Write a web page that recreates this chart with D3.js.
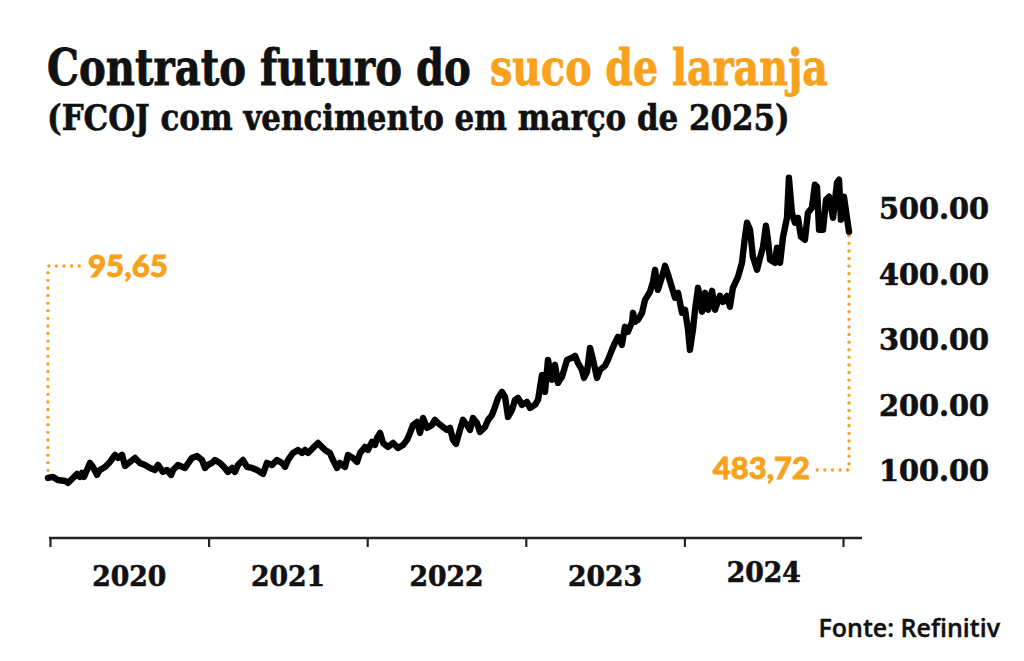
<!DOCTYPE html>
<html><head><meta charset="utf-8">
<script src="https://cdn.jsdelivr.net/npm/d3@7"></script>
<style>
html,body{margin:0;padding:0;background:#fff;}
svg{display:block;}
</style></head>
<body>
<script>
const titleMain = "Contrato futuro do";
const titleHighlight = "suco de laranja";
const subtitle = "(FCOJ com vencimento em março de 2025)";
const source = "Fonte: Refinitiv";
const startLabel = "95,65";
const endLabel = "483,72";
const years = [2020, 2021, 2022, 2023, 2024];
const yearTicks = [2020, 2021, 2022, 2023, 2024, 2025];
const yTicks = [100, 200, 300, 400, 500];

// decimal-year dates and price values
const dates = [
2019.987,2020.019,2020.050,2020.095,2020.113,2020.145,2020.170,2020.189,2020.202,2020.214,
2020.233,2020.252,2020.271,2020.296,2020.315,2020.347,2020.378,2020.410,2020.429,2020.454,
2020.473,2020.504,2020.536,2020.567,2020.599,2020.631,2020.662,2020.681,2020.712,2020.738,
2020.763,2020.776,2020.807,2020.851,2020.895,2020.927,2020.958,2020.977,
2020.996,2021.021,2021.040,2021.072,2021.103,2021.122,2021.148,2021.166,2021.185,2021.217,
2021.242,2021.274,2021.305,2021.324,2021.343,2021.368,2021.400,2021.431,2021.463,2021.482,
2021.501,2021.532,2021.564,2021.589,2021.608,2021.627,2021.658,2021.690,2021.715,2021.734,
2021.765,2021.784,2021.810,2021.828,2021.860,2021.879,2021.910,2021.936,2021.955,2021.986,
2022.005,2022.030,2022.049,
2022.062,2022.081,2022.100,2022.131,2022.163,2022.194,2022.226,2022.251,2022.270,2022.289,
2022.314,2022.333,2022.352,2022.377,2022.409,2022.427,2022.446,2022.478,2022.503,2022.522,
2022.541,2022.560,2022.585,2022.604,2022.629,2022.648,2022.667,2022.692,2022.711,2022.743,
2022.762,2022.787,2022.806,2022.825,2022.850,2022.869,2022.888,2022.913,2022.932,2022.951,
2022.976,2023.007,2023.026,2023.058,
2023.077,2023.102,2023.121,2023.140,2023.165,2023.184,2023.203,2023.228,2023.260,2023.291,
2023.310,2023.329,2023.354,2023.367,2023.386,2023.405,2023.424,2023.449,2023.468,2023.499,
2023.518,2023.543,2023.562,2023.581,2023.606,2023.625,2023.644,2023.670,2023.676,2023.688,
2023.707,2023.733,2023.752,2023.783,2023.802,2023.815,2023.833,2023.859,2023.878,2023.897,
2023.922,2023.941,2023.960,2023.985,2024.004,2024.023,2024.035,2024.054,
2024.067,2024.086,2024.111,2024.130,2024.149,2024.174,2024.193,2024.224,2024.243,2024.269,
2024.287,2024.306,2024.338,2024.363,2024.382,2024.395,2024.414,2024.432,2024.458,2024.477,
2024.496,2024.514,2024.527,2024.540,2024.571,2024.584,2024.603,2024.622,2024.647,2024.659,
2024.678,2024.697,2024.716,2024.735,2024.760,2024.779,2024.804,2024.823,2024.836,2024.849,
2024.874,2024.893,2024.912,2024.937,2024.962,2024.975,2024.987,2025.006,2025.025,2025.038
];
const values = [
88.5,90.0,85.4,83.9,80.9,88.5,94.6,90.0,96.1,90.0,
100.7,111.4,105.3,93.1,100.7,105.3,112.9,123.6,119.0,123.6,
106.8,112.9,119.0,111.4,108.3,103.7,100.7,108.3,97.6,100.7,
93.1,100.7,108.3,103.7,119.0,122.0,115.9,103.7,
108.3,111.4,115.9,111.4,103.7,97.6,103.7,97.6,108.3,115.9,
105.3,103.7,100.7,97.6,94.6,111.4,108.3,115.9,111.4,105.3,
115.9,126.6,131.2,126.6,131.2,126.6,134.3,141.9,135.8,131.2,
126.6,115.9,103.7,111.4,105.3,123.6,119.0,112.9,126.6,135.8,
131.2,143.4,138.8,
149.5,157.1,141.9,135.8,141.9,134.3,138.8,146.5,157.1,169.3,
173.9,157.1,180.0,164.8,169.3,177.0,172.4,166.3,161.7,164.8,
146.5,140.4,161.7,177.0,169.3,161.7,180.0,172.4,158.7,166.3,
177.0,184.6,196.8,210.5,219.7,212.1,181.5,192.2,207.5,210.5,
199.9,204.4,195.3,199.9,
207.5,245.6,219.7,268.5,238.0,260.9,233.4,242.6,268.5,271.6,
274.6,263.9,253.2,241.0,250.2,286.8,268.5,241.0,253.2,259.4,
268.5,283.8,294.4,303.6,291.4,318.9,311.2,326.5,340.2,326.5,
329.5,340.2,360.0,372.2,387.5,405.8,375.3,395.1,411.9,398.2,
378.3,363.1,370.7,340.2,344.8,314.3,283.8,314.3,
344.8,378.3,341.7,370.7,344.8,373.8,344.8,366.1,357.0,366.1,
349.4,378.3,395.1,416.5,456.2,477.5,466.8,425.6,405.8,424.1,
440.9,472.9,451.6,421.1,416.5,439.4,416.5,456.2,485.1,546.2,
492.8,477.5,485.1,456.2,451.6,492.8,500.4,535.5,532.4,466.8,
466.8,512.6,517.2,485.1,538.5,543.1,482.1,517.2,485.1,463.8
];

const W = 1024, H = 661;
const ORANGE = "#F8A21C";
const INK = "#111111";
const SLAB = "'DejaVu Serif Condensed','DejaVu Serif',serif";
const SANS = "Lato,'Open Sans',sans-serif";

const svg = d3.select("body").append("svg").attr("width", W).attr("height", H);

const x = d3.scaleLinear().domain([2020, 2025]).range([50, 843]);
const y = d3.scaleLinear().domain([0, 500]).range([536, 208]);

// Horizontal fit helper: natural metrics, then scale in x to the target width
function fitText(sel, left, base, width) {
  const w = sel.node().getComputedTextLength();
  sel.attr("x", 0).attr("y", 0)
     .attr("transform", `translate(${left},${base}) scale(${width / w},1)`);
  return sel;
}

// Title (two separate texts)
fitText(svg.append("text")
  .attr("font-family", SLAB).attr("font-weight", "bold").attr("font-size", 51).attr("fill", INK)
  .attr("stroke", INK).attr("stroke-width", 0.8)
  .text(titleMain), 47, 85, 424);
fitText(svg.append("text")
  .attr("font-family", SLAB).attr("font-weight", "bold").attr("font-size", 51).attr("fill", ORANGE)
  .attr("stroke", ORANGE).attr("stroke-width", 0.8)
  .text(titleHighlight), 490, 85, 338);

fitText(svg.append("text")
  .attr("font-family", SLAB).attr("font-weight", "bold").attr("font-size", 35).attr("fill", INK)
  .attr("stroke", INK).attr("stroke-width", 0.6)
  .text(subtitle), 47, 130, 743);

// X axis
const axisY = 538;
const xAxis = d3.axisBottom(x).tickValues(yearTicks).tickSize(9).tickFormat("");
const gx = svg.append("g").attr("transform", `translate(0,${axisY})`).call(xAxis);
gx.select(".domain").remove();
gx.selectAll(".tick line").attr("stroke", "#222").attr("stroke-width", 2.2);
svg.append("line").attr("x1", x(2020) - 1).attr("x2", 862).attr("y1", axisY).attr("y2", axisY)
  .attr("stroke", "#222").attr("stroke-width", 2.6);

svg.append("g").selectAll("text").data(years).join("text")
  .attr("x", d => x(d + 0.5)).attr("y", d => d === 2024 ? 582 : 586)
  .attr("text-anchor", "middle")
  .attr("font-family", SLAB).attr("font-weight", "bold").attr("font-size", 27).attr("fill", INK)
  .attr("stroke", INK).attr("stroke-width", 0.6)
  .attr("textLength", 74).attr("lengthAdjust", "spacingAndGlyphs")
  .text(d => d);

// Y axis (right)
const yAxis = d3.axisRight(y).tickValues(yTicks).tickSize(0).tickPadding(0).tickFormat(d3.format(".2f"));
const gy = svg.append("g").attr("transform", "translate(879,0)").call(yAxis);
gy.select(".domain").remove();
gy.selectAll("text").attr("font-family", SLAB).attr("font-weight", "bold")
  .attr("font-size", 29).attr("fill", INK).attr("dy", "0.36em").attr("x", 0)
  .attr("stroke", INK).attr("stroke-width", 0.6)
  .attr("textLength", 110).attr("lengthAdjust", "spacingAndGlyphs");

// Annotation dotted lines
const first = [dates[0], values[0]];
const last = [dates[dates.length - 1], values[values.length - 1]];
const dotStyle = g => g.attr("fill", "none").attr("stroke", ORANGE).attr("stroke-width", 3.4)
  .attr("stroke-linecap", "round").attr("stroke-dasharray", "0 7.6");

const labelY1 = 266;
svg.append("path").call(dotStyle)
  .attr("d", d3.line()([[x(first[0]), y(first[1])], [x(first[0]), labelY1], [x(first[0]) + 37, labelY1]]));
svg.append("text").attr("x", x(first[0]) + 40).attr("y", labelY1).attr("dy", "0.36em")
  .attr("font-family", SANS).attr("font-weight", 900).attr("font-size", 31).attr("fill", ORANGE)
  .attr("stroke", ORANGE).attr("stroke-width", 0.8)
  .attr("textLength", 80).attr("lengthAdjust", "spacingAndGlyphs")
  .text(startLabel);

const labelY2 = 470;
svg.append("path").call(dotStyle)
  .attr("d", d3.line()([[x(last[0]), y(last[1]) + 4], [x(last[0]), labelY2], [x(last[0]) - 34, labelY2]]));
svg.append("text").attr("x", x(last[0]) - 39).attr("y", labelY2 - 2).attr("dy", "0.36em")
  .attr("text-anchor", "end")
  .attr("font-family", SANS).attr("font-weight", 900).attr("font-size", 31).attr("fill", ORANGE)
  .attr("stroke", ORANGE).attr("stroke-width", 0.8)
  .text(endLabel);

// Price line
svg.append("path")
  .datum(dates.map((d, i) => [d, values[i]]))
  .attr("fill", "none").attr("stroke", "#000").attr("stroke-width", 6.4)
  .attr("stroke-linejoin", "round").attr("stroke-linecap", "round")
  .attr("d", d3.line().x(d => x(d[0])).y(d => y(d[1])));

// Source
svg.append("text").attr("x", 1000).attr("y", 637).attr("text-anchor", "end")
  .attr("font-family", "'Open Sans',sans-serif").attr("font-weight", 600).attr("font-size", 25).attr("fill", INK)
  .attr("stroke", INK).attr("stroke-width", 0.4)
  .text(source);
</script>
</body></html>
